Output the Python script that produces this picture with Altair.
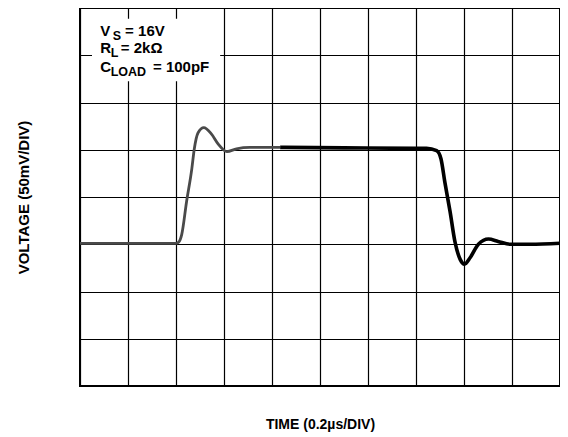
import altair as alt
import pandas as pd

# ---- data (x in time divisions, y in voltage divisions) ----
gray_t = [0.0, 1.0, 2.0, 2.06, 2.12, 2.22, 2.33, 2.38, 2.46, 2.58, 2.74, 2.88, 3.06, 3.26, 3.54, 4.17]
gray_v = [3.02, 3.02, 3.02, 3.05, 3.21, 3.90, 4.60, 5.01, 5.36, 5.47, 5.33, 5.12, 4.96, 5.02, 5.05, 5.05]

black_t = [4.17, 5.5, 7.0, 7.22, 7.43, 7.52, 7.60, 7.71, 7.81, 7.92, 8.01, 8.13, 8.30, 8.51, 8.71, 8.96, 9.38, 10.0]
black_v = [5.05, 5.04, 5.03, 5.03, 4.98, 4.81, 4.32, 3.69, 3.06, 2.68, 2.58, 2.72, 3.00, 3.11, 3.06, 3.00, 3.00, 3.02]

main_labels = ["V", "= 16V", "R", "= 2kΩ", "C", "= 100pF"]
main_t = [0.42, 0.94, 0.42, 0.85, 0.42, 1.52]
main_v = [7.40, 7.40, 7.04, 7.04, 6.64, 6.64]

sub_labels = ["S", "L", "LOAD"]
sub_t = [0.68, 0.64, 0.64]
sub_v = [7.40, 7.04, 6.64]

box_t, box_t2 = [0.25], [2.92]
box_v, box_v2 = [6.45], [7.77]

x_grid = list(range(0, 11))
y_grid = list(range(0, 9))

FONT = "Liberation Sans"

gray_df = pd.DataFrame({"t": gray_t, "v": gray_v})
black_df = pd.DataFrame({"t": black_t, "v": black_v})
main_df = pd.DataFrame({"t": main_t, "v": main_v, "label": main_labels})
sub_df = pd.DataFrame({"t": sub_t, "v": sub_v, "label": sub_labels})
box_df = pd.DataFrame({"t": box_t, "t2": box_t2, "v": box_v, "v2": box_v2})

xscale = alt.Scale(domain=[0, 10], nice=False, zero=False)
yscale = alt.Scale(domain=[0, 8], nice=False, zero=False)

xaxis = alt.Axis(values=x_grid, labels=False, ticks=False, domain=False,
                 grid=True, gridColor="#000000", gridWidth=1.2, gridOpacity=1,
                 title="TIME (0.2µs/DIV)", titleFont=FONT, titleFontSize=14,
                 titleFontWeight="bold", titleColor="#000000", titlePadding=31)
yaxis = alt.Axis(values=y_grid, labels=False, ticks=False, domain=False,
                 grid=True, gridColor="#000000", gridWidth=1.2, gridOpacity=1,
                 title="VOLTAGE (50mV/DIV)", titleFont=FONT, titleFontSize=15,
                 titleFontWeight="bold", titleColor="#000000", titlePadding=49)

X = alt.X("t:Q", scale=xscale, axis=xaxis)
Y = alt.Y("v:Q", scale=yscale, axis=yaxis)

gray_line = alt.Chart(gray_df).mark_line(
    color="#4a4a4a", strokeWidth=2.8, interpolate="monotone"
).encode(x=X, y=Y)

black_line = alt.Chart(black_df).mark_line(
    color="#000000", strokeWidth=3.6, interpolate="monotone"
).encode(x=X, y=Y)

box = alt.Chart(box_df).mark_rect(color="white").encode(
    x=X, x2="t2:Q", y=Y, y2="v2:Q",
)

main_text = alt.Chart(main_df).mark_text(
    align="left", baseline="alphabetic", font=FONT, fontWeight="bold",
    fontSize=15, color="#000000"
).encode(x=X, y=Y, text="label:N")

sub_text = alt.Chart(sub_df).mark_text(
    align="left", baseline="alphabetic", font=FONT, fontWeight="bold",
    fontSize=12.5, color="#000000", dy=4
).encode(x=X, y=Y, text="label:N")

chart = alt.layer(gray_line, box, black_line, main_text, sub_text).properties(
    width=480,
    height=378,
    padding={"left": 72, "top": 0, "right": 0, "bottom": 47},
    autosize=alt.AutoSizeParams(type="none"),
    background="white",
).configure_view(stroke="#000000", strokeWidth=2)

chart.save("out.html", embed_options={"renderer": "svg", "actions": False})
